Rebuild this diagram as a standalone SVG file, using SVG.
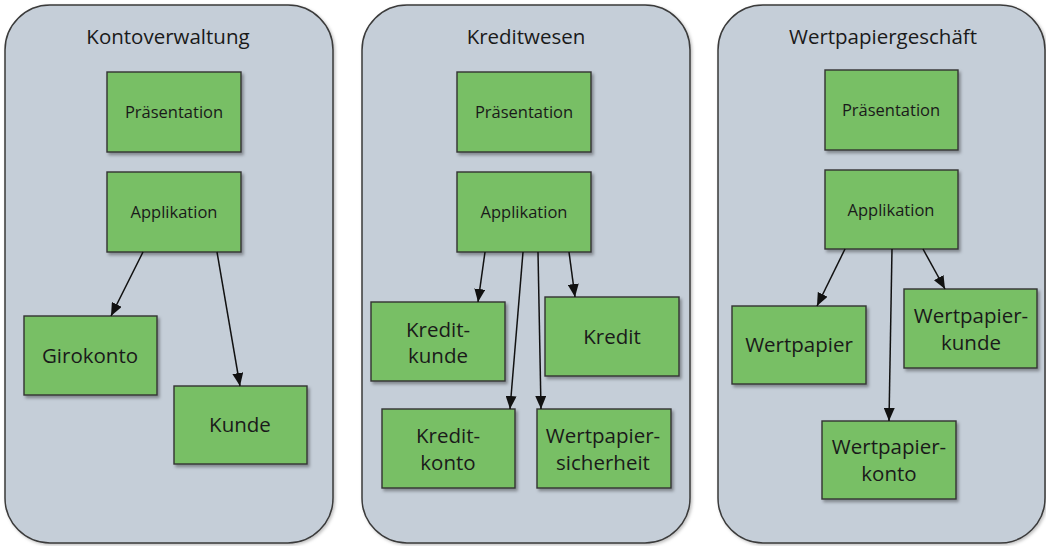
<svg xmlns="http://www.w3.org/2000/svg" width="1046" height="546" viewBox="0 0 1046 546">
  <defs>
    <filter id="sh" x="-10%" y="-10%" width="130%" height="130%">
      <feDropShadow dx="2" dy="2.5" stdDeviation="1.5" flood-color="#000" flood-opacity="0.35"/>
    </filter>
    <filter id="psh" x="-5%" y="-5%" width="110%" height="110%">
      <feDropShadow dx="1.5" dy="1.5" stdDeviation="1.5" flood-color="#000" flood-opacity="0.25"/>
    </filter>
    <marker id="arr" markerUnits="userSpaceOnUse" markerWidth="13" markerHeight="11" viewBox="0 0 13 11" refX="13" refY="5.5" orient="auto">
      <path d="M0,0 L13,5.5 L0,11 Z" fill="#111"/>
    </marker>
  </defs>
  <style>
    .panel { fill: #c5ced8; stroke: #3a3a3a; stroke-width: 1.5; }
    .box { fill: #78bf65; stroke: #333; stroke-width: 1.4; }
    .title { font-family: "Open Sans", "Noto Sans", sans-serif; font-size: 20.5px; fill: #1a1a1a; text-anchor: middle; }
    .sm { font-family: "Open Sans", "Noto Sans", sans-serif; font-size: 16.5px; fill: #1a1a1a; text-anchor: middle; }
    .lg { font-family: "Open Sans", "Noto Sans", sans-serif; font-size: 20.5px; fill: #1a1a1a; text-anchor: middle; }
    .conn line { stroke: #111; stroke-width: 1.5; marker-end: url(#arr); }
  </style>

  <g id="panel-kontoverwaltung">
    <rect class="panel" x="5" y="5" width="328" height="538" rx="45" ry="45" filter="url(#psh)"/>
    <text class="title" x="168" y="44">Kontoverwaltung</text>
  </g>
  <g id="panel-kreditwesen">
    <rect class="panel" x="362" y="5" width="328" height="538" rx="45" ry="45" filter="url(#psh)"/>
    <text class="title" x="526" y="44">Kreditwesen</text>
  </g>
  <g id="panel-wertpapiergeschaeft">
    <rect class="panel" x="718" y="5" width="327" height="538" rx="45" ry="45" filter="url(#psh)"/>
    <text class="title" x="883" y="44">Wertpapiergeschäft</text>
  </g>

  <!-- Kontoverwaltung nodes -->
  <g id="kv-praesentation">
    <rect class="box" x="107" y="72" width="134" height="80" filter="url(#sh)"/>
    <text class="sm" x="174" y="118">Präsentation</text>
  </g>
  <g id="kv-applikation">
    <rect class="box" x="107" y="172" width="134" height="80" filter="url(#sh)"/>
    <text class="sm" x="174" y="218">Applikation</text>
  </g>
  <g id="kv-girokonto">
    <rect class="box" x="24" y="316" width="133" height="79" filter="url(#sh)"/>
    <text class="lg" x="90" y="363">Girokonto</text>
  </g>
  <g id="kv-kunde">
    <rect class="box" x="174" y="386" width="133" height="78" filter="url(#sh)"/>
    <text class="lg" x="240" y="432">Kunde</text>
  </g>

  <!-- Kreditwesen nodes -->
  <g id="kw-praesentation">
    <rect class="box" x="457" y="72" width="134" height="80" filter="url(#sh)"/>
    <text class="sm" x="524" y="118">Präsentation</text>
  </g>
  <g id="kw-applikation">
    <rect class="box" x="457" y="172" width="134" height="80" filter="url(#sh)"/>
    <text class="sm" x="524" y="218">Applikation</text>
  </g>
  <g id="kw-kreditkunde">
    <rect class="box" x="371" y="302" width="134" height="79" filter="url(#sh)"/>
    <text class="lg" x="438" y="337">Kredit-</text>
    <text class="lg" x="438" y="363">kunde</text>
  </g>
  <g id="kw-kredit">
    <rect class="box" x="545" y="297" width="134" height="79" filter="url(#sh)"/>
    <text class="lg" x="612" y="344">Kredit</text>
  </g>
  <g id="kw-kreditkonto">
    <rect class="box" x="382" y="409" width="133" height="79" filter="url(#sh)"/>
    <text class="lg" x="448" y="443">Kredit-</text>
    <text class="lg" x="448" y="470">konto</text>
  </g>
  <g id="kw-wertpapiersicherheit">
    <rect class="box" x="537" y="409" width="134" height="79" filter="url(#sh)"/>
    <text class="lg" x="603" y="443">Wertpapier-</text>
    <text class="lg" x="603" y="470">sicherheit</text>
  </g>

  <!-- Wertpapiergeschaeft nodes -->
  <g id="wp-praesentation">
    <rect class="box" x="825" y="70" width="133" height="80" filter="url(#sh)"/>
    <text class="sm" x="891" y="116">Präsentation</text>
  </g>
  <g id="wp-applikation">
    <rect class="box" x="825" y="170" width="133" height="79" filter="url(#sh)"/>
    <text class="sm" x="891" y="216">Applikation</text>
  </g>
  <g id="wp-wertpapier">
    <rect class="box" x="732" y="306" width="134" height="78" filter="url(#sh)"/>
    <text class="lg" x="799" y="352">Wertpapier</text>
  </g>
  <g id="wp-wertpapierkunde">
    <rect class="box" x="904" y="289" width="133" height="79" filter="url(#sh)"/>
    <text class="lg" x="971" y="323">Wertpapier-</text>
    <text class="lg" x="971" y="350">kunde</text>
  </g>
  <g id="wp-wertpapierkonto">
    <rect class="box" x="822" y="421" width="134" height="78" filter="url(#sh)"/>
    <text class="lg" x="889" y="454">Wertpapier-</text>
    <text class="lg" x="889" y="481">konto</text>
  </g>

  <g id="connectors" class="conn">
    <line x1="143" y1="252" x2="111" y2="316"/>
    <line x1="217" y1="252" x2="240" y2="386"/>
    <line x1="485" y1="252" x2="478" y2="302"/>
    <line x1="523" y1="252" x2="510" y2="409"/>
    <line x1="538" y1="252" x2="541" y2="409"/>
    <line x1="569" y1="252" x2="575" y2="297"/>
    <line x1="845" y1="249" x2="817" y2="306"/>
    <line x1="892" y1="249" x2="889" y2="421"/>
    <line x1="923" y1="249" x2="945" y2="289"/>
  </g>
</svg>
